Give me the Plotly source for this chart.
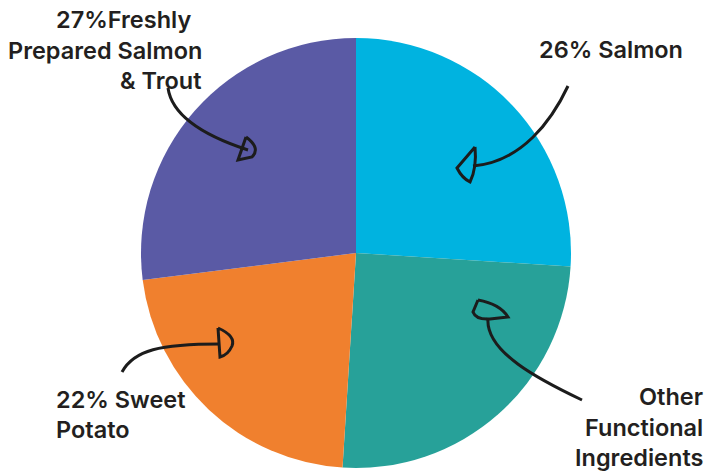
import plotly.graph_objects as go

# ---- data ----
categories = ["Salmon", "Other Functional Ingredients", "Sweet Potato",
              "Freshly Prepared Salmon & Trout"]
shares = [26, 25, 22, 27]
colors = ["#00B3E0", "#27A199", "#F0802E", "#5A5AA5"]

# label lines (text, x px, y px, anchor)
label_lines = [
    ("27%Freshly", 193, 19, "right"),
    ("Prepared Salmon", 204, 50, "right"),
    ("& Trout", 203, 80, "right"),
    ("26% Salmon", 685, 49, "right"),
    ("22% Sweet", 54, 399, "left"),
    ("Potato", 54, 429, "left"),
    ("Other", 705, 396, "right"),
    ("Functional", 705, 427, "right"),
    ("Ingredients", 705, 457, "right"),
]

W, H = 710, 472
cx, cy, r = 356, 253, 215

fig = go.Figure()
fig.add_trace(go.Pie(
    labels=categories, values=shares, sort=False, direction="clockwise",
    rotation=0, marker=dict(colors=colors, line=dict(width=0)),
    textinfo="none", hoverinfo="label+percent", showlegend=False,
    domain=dict(x=[(cx - r) / W, (cx + r) / W], y=[1 - (cy + r) / H, 1 - (cy - r) / H]),
))

# invisible pixel-space axes for the hand-drawn arrows
fig.update_xaxes(range=[0, W], visible=False, domain=[0, 1], fixedrange=True)
fig.update_yaxes(range=[H, 0], visible=False, domain=[0, 1], fixedrange=True)
fig.add_trace(go.Scatter(x=[0], y=[0], mode="markers", marker=dict(opacity=0),
                         showlegend=False, hoverinfo="skip"))

ink = "#1c1c1c"
arrow_paths = [
    # Freshly
    "M168,88 C172,116 205,136 248,150",
    "M246,137 L238,160 L252,157 Q261,148 246,137",
    # Salmon
    "M568,86 C552,120 522,162 473,166",
    "M475,147 L457,168 Q462,178 470,182 Q477,168 475,147",
    # Sweet potato
    "M122,372 C134,350 160,344 220,344",
    "M218,328 Q236,336 232,346 Q228,355 220,357 L218,328",
    # Other
    "M582,400 C540,380 485,352 488,318",
    "M478,300 L473,312 Q476,320 490,319 L508,317 Q500,304 478,300",
]
for p in arrow_paths:
    fig.add_shape(type="path", path=p, xref="x", yref="y",
                  line=dict(color=ink, width=3), fillcolor="rgba(0,0,0,0)")

for text, x, y, anchor in label_lines:
    fig.add_annotation(text=text, x=x, y=y, xref="x", yref="y",
                       xanchor=anchor, yanchor="middle", showarrow=False,
                       font=dict(family="Inter", size=23.5, color="#231f20", weight=600))

fig.update_layout(width=W, height=H, margin=dict(l=0, r=0, t=0, b=0),
                  paper_bgcolor="white", plot_bgcolor="white")
fig.write_html("out.html", config={"displayModeBar": False},
               post_script="document.body.style.margin='0';document.body.style.overflow='hidden';")
